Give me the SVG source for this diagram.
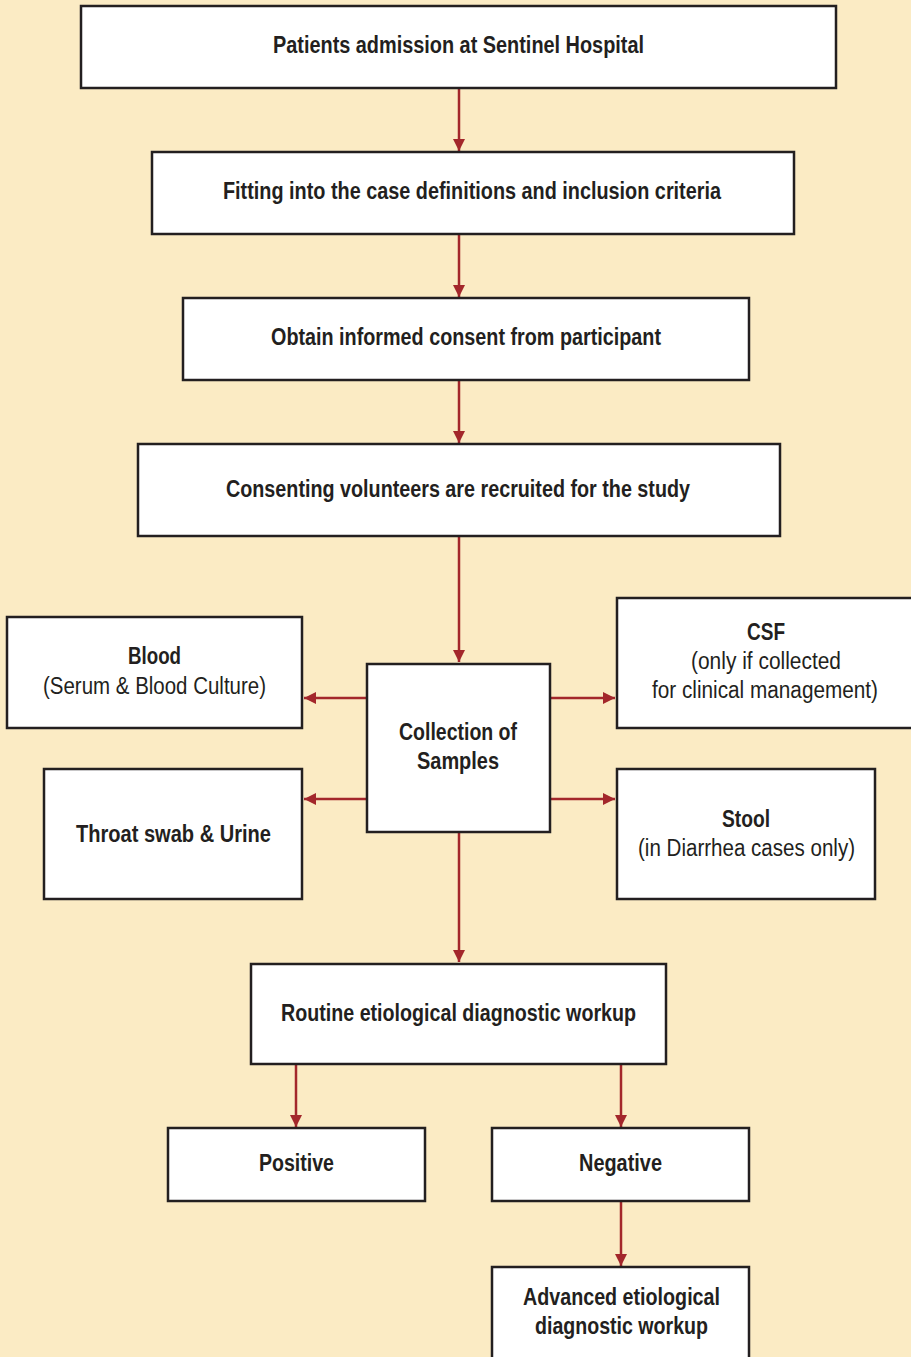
<svg xmlns="http://www.w3.org/2000/svg" width="911" height="1357" viewBox="0 0 911 1357">
<defs>
<marker id="ah" viewBox="0 0 10 10" refX="10" refY="5" markerWidth="12" markerHeight="12" markerUnits="userSpaceOnUse" orient="auto">
<path d="M0,0 L10,5 L0,10 Z" fill="#a3272b"/>
</marker>
<style>
.box{fill:#fff;stroke:#231f20;stroke-width:2.5}
.t{font-family:"Liberation Sans",Arial,sans-serif;font-size:23px;fill:#231f20;text-anchor:middle}
.b{font-weight:bold}
.c{stroke:#a3272b;stroke-width:2.5;fill:none;marker-end:url(#ah)}
</style>
</defs>
<rect width="911" height="1357" fill="#fbebc4"/>
<g id="connectors">
<line class="c" x1="459" y1="88" x2="459" y2="151"/>
<line class="c" x1="459" y1="234" x2="459" y2="297"/>
<line class="c" x1="459" y1="380" x2="459" y2="443"/>
<line class="c" x1="459" y1="536" x2="459" y2="662"/>
<line class="c" x1="367" y1="698" x2="304" y2="698"/>
<line class="c" x1="550" y1="698" x2="615" y2="698"/>
<line class="c" x1="367" y1="799" x2="304" y2="799"/>
<line class="c" x1="550" y1="799" x2="615" y2="799"/>
<line class="c" x1="459" y1="832" x2="459" y2="962"/>
<line class="c" x1="296" y1="1064" x2="296" y2="1127"/>
<line class="c" x1="621" y1="1064" x2="621" y2="1127"/>
<line class="c" x1="621" y1="1201" x2="621" y2="1266"/>
</g>
<g id="n1"><rect class="box" x="81" y="6" width="755" height="82"/><text class="t b" x="458.5" y="53" textLength="371" lengthAdjust="spacingAndGlyphs">Patients admission at Sentinel Hospital</text></g>
<g id="n2"><rect class="box" x="152" y="152" width="642" height="82"/><text class="t b" x="472" y="199" textLength="498" lengthAdjust="spacingAndGlyphs">Fitting into the case definitions and inclusion criteria</text></g>
<g id="n3"><rect class="box" x="183" y="298" width="566" height="82"/><text class="t b" x="466" y="345" textLength="390" lengthAdjust="spacingAndGlyphs">Obtain informed consent from participant</text></g>
<g id="n4"><rect class="box" x="138" y="444" width="642" height="92"/><text class="t b" x="458" y="497" textLength="464" lengthAdjust="spacingAndGlyphs">Consenting volunteers are recruited for the study</text></g>
<g id="n5"><rect class="box" x="7" y="617" width="295" height="111"/><text class="t b" x="154.5" y="664" textLength="53" lengthAdjust="spacingAndGlyphs">Blood</text><text class="t" x="154.5" y="694" textLength="223" lengthAdjust="spacingAndGlyphs">(Serum &amp; Blood Culture)</text></g>
<g id="n6"><rect class="box" x="367" y="664" width="183" height="168"/><text class="t b" x="458" y="740" textLength="118" lengthAdjust="spacingAndGlyphs">Collection of</text><text class="t b" x="458" y="769" textLength="82" lengthAdjust="spacingAndGlyphs">Samples</text></g>
<g id="n7"><rect class="box" x="617" y="598" width="300" height="130"/><text class="t b" x="766" y="640" textLength="38" lengthAdjust="spacingAndGlyphs">CSF</text><text class="t" x="766" y="669" textLength="150" lengthAdjust="spacingAndGlyphs">(only if collected</text><text class="t" x="765" y="698" textLength="226" lengthAdjust="spacingAndGlyphs">for clinical management)</text></g>
<g id="n8"><rect class="box" x="44" y="769" width="258" height="130"/><text class="t b" x="173.5" y="842" textLength="195" lengthAdjust="spacingAndGlyphs">Throat swab &amp; Urine</text></g>
<g id="n9"><rect class="box" x="617" y="769" width="258" height="130"/><text class="t b" x="746" y="827" textLength="48" lengthAdjust="spacingAndGlyphs">Stool</text><text class="t" x="746.5" y="856" textLength="217" lengthAdjust="spacingAndGlyphs">(in Diarrhea cases only)</text></g>
<g id="n10"><rect class="box" x="251" y="964" width="415" height="100"/><text class="t b" x="458.5" y="1021" textLength="355" lengthAdjust="spacingAndGlyphs">Routine etiological diagnostic workup</text></g>
<g id="n11"><rect class="box" x="168" y="1128" width="257" height="73"/><text class="t b" x="296.5" y="1171" textLength="75" lengthAdjust="spacingAndGlyphs">Positive</text></g>
<g id="n12"><rect class="box" x="492" y="1128" width="257" height="73"/><text class="t b" x="620.5" y="1171" textLength="83" lengthAdjust="spacingAndGlyphs">Negative</text></g>
<g id="n13"><rect class="box" x="492" y="1267" width="257" height="100"/><text class="t b" x="621.5" y="1305" textLength="197" lengthAdjust="spacingAndGlyphs">Advanced etiological</text><text class="t b" x="621.5" y="1334" textLength="173" lengthAdjust="spacingAndGlyphs">diagnostic workup</text></g>
</svg>
